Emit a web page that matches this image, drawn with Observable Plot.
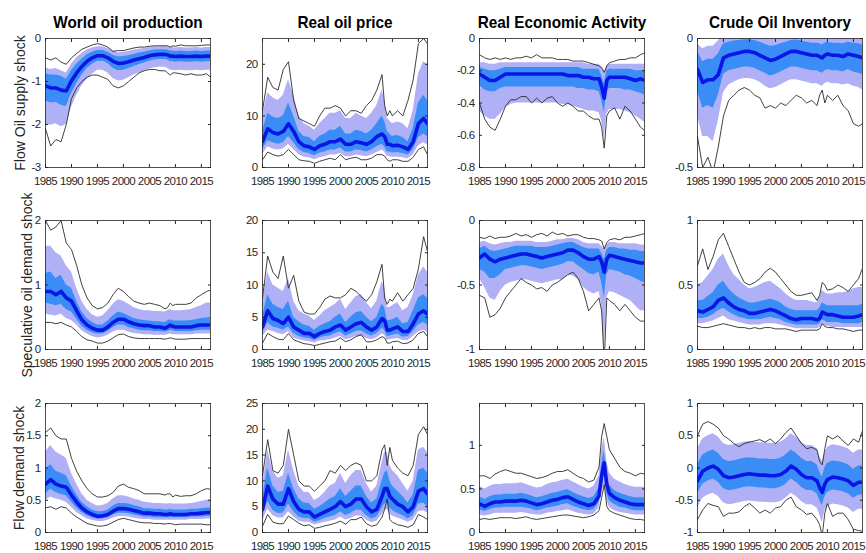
<!DOCTYPE html>
<html><head><meta charset="utf-8">
<script src="https://cdn.jsdelivr.net/npm/d3@7"></script>
<script src="https://cdn.jsdelivr.net/npm/@observablehq/plot@0.6"></script>
<style>
body{margin:0;background:#fff;}
#chart{position:relative;width:866px;height:553px;overflow:hidden;font-family:"Liberation Sans",Arial,sans-serif;background:#fff;}
.panel{position:absolute;}
.panel svg{display:block;}
.title{position:absolute;font-weight:bold;font-size:17px;line-height:17px;color:#000;white-space:nowrap;transform:translateX(-50%) scaleX(0.9);}
.rowlab{position:absolute;font-size:14px;line-height:14px;color:#262626;white-space:nowrap;transform:translate(-50%,-50%) rotate(-90deg);}
</style></head><body><div id="chart"></div>
<script>
// time axis (quarters sampled yearly, plus a few points around the 2008-09 spike)
const years = [1985,1986,1987,1988,1989,1990,1991,1992,1993,1994,1995,1996,1997,1998,1999,2000,2001,2002,2003,2004,2005,2006,2007,2008,2008.5,2009,2009.5,2010,2011,2012,2013,2014,2015,2016,2016.75];
const xTicks = [1985,1990,1995,2000,2005,2010,2015];
const columnTitles = ["World oil production","Real oil price","Real Economic Activity","Crude Oil Inventory"];
const rowTitles = ["Flow Oil supply shock","Speculative oil demand shock","Flow demand shock"];

// y tick labels per panel
const yt_S_WOP=[-3,-2,-1,0], yt_S_ROP=[0,10,20], yt_S_REA=[-0.8,-0.6,-0.4,-0.2,0], yt_S_COI=[-0.5,0];
const yt_D_WOP=[0,1,2], yt_D_ROP=[0,5,10,15,20], yt_D_REA=[-1,-0.5,0], yt_D_COI=[0,0.5,1];
const yt_F_WOP=[0,0.5,1,1.5,2], yt_F_ROP=[0,5,10,15,20,25], yt_F_REA=[0,0.5,1], yt_F_COI=[-1,-0.5,0,0.5,1];

// ---- Row 1: flow oil supply shock ----
const S_WOP_med=[-1.10,-1.15,-1.15,-1.20,-1.22,-0.98,-0.80,-0.65,-0.53,-0.45,-0.40,-0.40,-0.45,-0.53,-0.58,-0.57,-0.54,-0.50,-0.47,-0.44,-0.40,-0.38,-0.37,-0.37,-0.38,-0.41,-0.41,-0.42,-0.41,-0.42,-0.42,-0.41,-0.42,-0.41,-0.41];
const S_WOP_inHi=[-0.82,-0.85,-0.85,-0.88,-0.95,-0.75,-0.60,-0.48,-0.38,-0.32,-0.28,-0.28,-0.32,-0.39,-0.43,-0.42,-0.40,-0.37,-0.34,-0.32,-0.29,-0.27,-0.26,-0.26,-0.27,-0.29,-0.29,-0.30,-0.29,-0.30,-0.30,-0.29,-0.30,-0.29,-0.29];
const S_WOP_inLo=[-1.45,-1.50,-1.48,-1.55,-1.58,-1.28,-1.05,-0.85,-0.70,-0.60,-0.53,-0.53,-0.58,-0.69,-0.75,-0.74,-0.70,-0.65,-0.61,-0.57,-0.53,-0.50,-0.49,-0.49,-0.50,-0.54,-0.54,-0.55,-0.54,-0.55,-0.55,-0.54,-0.55,-0.54,-0.54];
const S_WOP_outHi=[-0.68,-0.72,-0.70,-0.75,-0.80,-0.60,-0.45,-0.35,-0.27,-0.22,-0.19,-0.19,-0.23,-0.29,-0.33,-0.32,-0.30,-0.27,-0.25,-0.23,-0.21,-0.19,-0.19,-0.19,-0.19,-0.21,-0.21,-0.22,-0.21,-0.22,-0.22,-0.21,-0.22,-0.21,-0.21];
const S_WOP_outLo=[-2.00,-2.02,-1.98,-2.05,-2.00,-1.60,-1.32,-1.10,-0.95,-0.83,-0.74,-0.74,-0.80,-0.93,-0.99,-0.97,-0.91,-0.85,-0.80,-0.76,-0.71,-0.68,-0.67,-0.67,-0.69,-0.74,-0.74,-0.75,-0.74,-0.75,-0.75,-0.74,-0.75,-0.74,-0.74];
const S_WOP_bHi=[-0.45,-0.50,-0.45,-0.55,-0.60,-0.45,-0.35,-0.25,-0.20,-0.15,-0.12,-0.15,-0.20,-0.30,-0.28,-0.28,-0.25,-0.22,-0.20,-0.20,-0.18,-0.17,-0.17,-0.17,-0.17,-0.20,-0.17,-0.18,-0.15,-0.17,-0.17,-0.17,-0.16,-0.15,-0.15];
const S_WOP_bLo=[-2.10,-2.50,-2.35,-2.40,-2.00,-1.40,-1.15,-1.00,-0.90,-0.85,-0.85,-0.90,-0.95,-1.10,-1.15,-1.10,-1.00,-0.90,-0.80,-0.75,-0.72,-0.72,-0.75,-0.75,-0.80,-0.85,-0.80,-0.80,-0.82,-0.85,-0.82,-0.85,-0.85,-0.82,-0.90];

const S_ROP_med=[5.0,7.5,6.8,6.5,7.0,8.5,7.0,5.0,4.2,4.0,3.5,4.2,4.5,5.0,5.0,5.5,4.5,4.5,5.0,4.8,4.5,5.0,6.0,6.5,6.0,4.5,4.5,4.2,4.3,4.0,3.5,5.0,8.5,9.5,8.5];
const S_ROP_inHi=[7.0,10.5,9.8,9.5,10.0,12.5,10.0,7.0,6.0,5.8,5.0,6.0,6.5,7.2,7.2,8.0,6.5,6.5,7.2,7.0,6.5,7.2,8.5,10.0,9.0,7.0,6.5,6.0,6.2,5.8,5.0,7.5,12.5,14.0,13.0];
const S_ROP_inLo=[3.5,5.2,4.8,4.5,4.8,6.0,4.8,3.5,2.9,2.7,2.3,2.8,3.0,3.4,3.4,3.8,3.0,3.0,3.4,3.3,3.0,3.4,4.0,4.5,4.0,3.0,3.0,2.8,2.9,2.7,2.4,3.4,5.8,6.5,6.0];
const S_ROP_outHi=[10.0,14.5,13.5,13.0,14.0,17.0,14.0,10.0,8.5,8.0,7.2,8.5,9.5,10.5,10.5,11.0,9.5,9.5,10.5,10.0,9.5,10.5,12.0,15.0,13.0,9.5,9.0,8.5,8.8,8.5,7.5,11.0,18.0,20.5,20.0];
const S_ROP_outLo=[2.5,4.0,3.6,3.4,3.6,4.5,3.5,2.5,2.0,1.9,1.5,1.9,2.1,2.4,2.4,2.7,2.1,2.1,2.4,2.3,2.1,2.4,2.9,3.4,3.0,2.2,2.1,2.0,2.0,1.9,1.7,2.4,4.2,4.8,4.4];
const S_ROP_bHi=[11.0,17.5,15.5,15.0,19.0,20.5,13.0,9.5,9.0,8.5,8.0,10.0,11.5,11.5,12.0,11.5,10.0,11.0,11.0,10.5,12.0,13.0,15.0,18.0,12.0,10.0,11.0,10.0,11.0,10.0,13.0,17.0,24.0,25.0,24.0];
const S_ROP_bLo=[1.5,3.0,2.5,2.2,2.5,3.5,2.5,1.5,1.3,1.2,0.8,1.2,1.5,1.8,1.5,2.5,1.5,1.8,2.0,1.5,1.5,1.8,2.5,2.5,2.2,1.5,1.2,1.5,1.5,1.2,1.2,2.0,3.5,4.0,2.5];

const S_REA_med=[-0.22,-0.24,-0.26,-0.26,-0.24,-0.22,-0.22,-0.22,-0.22,-0.22,-0.22,-0.22,-0.22,-0.22,-0.22,-0.22,-0.22,-0.23,-0.23,-0.23,-0.24,-0.24,-0.25,-0.25,-0.30,-0.37,-0.26,-0.24,-0.24,-0.24,-0.24,-0.25,-0.26,-0.25,-0.26];
const S_REA_inHi=[-0.18,-0.19,-0.20,-0.20,-0.19,-0.18,-0.18,-0.18,-0.18,-0.18,-0.18,-0.18,-0.18,-0.18,-0.18,-0.18,-0.18,-0.18,-0.18,-0.18,-0.19,-0.19,-0.19,-0.19,-0.23,-0.28,-0.20,-0.19,-0.19,-0.19,-0.19,-0.19,-0.20,-0.20,-0.20];
const S_REA_inLo=[-0.29,-0.32,-0.33,-0.33,-0.31,-0.30,-0.30,-0.30,-0.30,-0.30,-0.30,-0.30,-0.30,-0.30,-0.30,-0.30,-0.30,-0.30,-0.30,-0.31,-0.31,-0.32,-0.32,-0.33,-0.38,-0.46,-0.33,-0.31,-0.31,-0.31,-0.32,-0.32,-0.33,-0.34,-0.35];
const S_REA_outHi=[-0.15,-0.15,-0.16,-0.16,-0.15,-0.15,-0.15,-0.15,-0.15,-0.15,-0.15,-0.15,-0.15,-0.15,-0.15,-0.15,-0.15,-0.15,-0.15,-0.15,-0.15,-0.16,-0.16,-0.16,-0.18,-0.21,-0.17,-0.16,-0.16,-0.16,-0.16,-0.16,-0.16,-0.16,-0.16];
const S_REA_outLo=[-0.45,-0.48,-0.50,-0.50,-0.47,-0.43,-0.41,-0.40,-0.40,-0.40,-0.40,-0.40,-0.40,-0.40,-0.40,-0.40,-0.41,-0.41,-0.42,-0.43,-0.44,-0.45,-0.45,-0.46,-0.51,-0.62,-0.47,-0.44,-0.44,-0.44,-0.45,-0.46,-0.48,-0.50,-0.52];
const S_REA_bHi=[-0.10,-0.12,-0.13,-0.12,-0.13,-0.12,-0.13,-0.12,-0.12,-0.11,-0.12,-0.10,-0.12,-0.12,-0.12,-0.13,-0.13,-0.13,-0.14,-0.14,-0.14,-0.15,-0.16,-0.17,-0.18,-0.21,-0.17,-0.15,-0.14,-0.13,-0.13,-0.12,-0.12,-0.10,-0.09];
const S_REA_bLo=[-0.40,-0.50,-0.55,-0.57,-0.50,-0.42,-0.38,-0.38,-0.36,-0.36,-0.40,-0.37,-0.40,-0.37,-0.36,-0.40,-0.42,-0.40,-0.42,-0.45,-0.45,-0.48,-0.50,-0.50,-0.55,-0.68,-0.48,-0.45,-0.43,-0.50,-0.42,-0.45,-0.50,-0.55,-0.57];

const S_COI_med=[-0.12,-0.17,-0.16,-0.16,-0.14,-0.075,-0.065,-0.06,-0.055,-0.05,-0.05,-0.055,-0.065,-0.075,-0.085,-0.08,-0.07,-0.06,-0.05,-0.05,-0.055,-0.06,-0.065,-0.065,-0.07,-0.075,-0.065,-0.06,-0.065,-0.065,-0.07,-0.06,-0.065,-0.07,-0.075];
const S_COI_inHi=[-0.05,-0.09,-0.08,-0.08,-0.06,-0.02,-0.015,-0.01,-0.008,-0.005,-0.005,-0.008,-0.015,-0.022,-0.03,-0.028,-0.02,-0.015,-0.008,-0.006,-0.01,-0.015,-0.018,-0.018,-0.02,-0.025,-0.018,-0.015,-0.018,-0.018,-0.02,-0.015,-0.018,-0.02,-0.025];
const S_COI_inLo=[-0.20,-0.27,-0.26,-0.27,-0.22,-0.14,-0.125,-0.12,-0.115,-0.11,-0.11,-0.115,-0.125,-0.135,-0.145,-0.14,-0.13,-0.12,-0.11,-0.11,-0.115,-0.12,-0.125,-0.125,-0.13,-0.135,-0.125,-0.12,-0.125,-0.125,-0.13,-0.12,-0.13,-0.135,-0.14];
const S_COI_outHi=[-0.02,-0.04,-0.03,-0.03,-0.01,0.02,0.03,0.03,0.03,0.03,0.03,0.03,0.03,0.02,0.01,0.01,0.02,0.03,0.03,0.03,0.03,0.03,0.02,0.02,0.02,0.02,0.02,0.02,0.02,0.02,0.02,0.02,0.02,0.02,0.02];
const S_COI_outLo=[-0.30,-0.38,-0.38,-0.40,-0.32,-0.21,-0.18,-0.17,-0.16,-0.155,-0.155,-0.16,-0.17,-0.185,-0.195,-0.19,-0.18,-0.17,-0.16,-0.16,-0.165,-0.17,-0.175,-0.175,-0.18,-0.185,-0.175,-0.17,-0.175,-0.175,-0.18,-0.175,-0.185,-0.19,-0.20];
const S_COI_bHi=[0.06,0.05,0.05,0.05,0.06,0.08,0.09,0.09,0.09,0.09,0.09,0.09,0.09,0.08,0.08,0.08,0.08,0.09,0.09,0.09,0.09,0.09,0.08,0.08,0.08,0.08,0.08,0.08,0.08,0.08,0.08,0.08,0.08,0.08,0.08];
const S_COI_bLo=[-0.38,-0.50,-0.46,-0.52,-0.42,-0.30,-0.24,-0.22,-0.20,-0.19,-0.20,-0.22,-0.23,-0.27,-0.26,-0.27,-0.25,-0.26,-0.24,-0.22,-0.23,-0.25,-0.24,-0.26,-0.22,-0.20,-0.25,-0.22,-0.24,-0.22,-0.26,-0.28,-0.33,-0.34,-0.33];

// ---- Row 2: speculative oil demand shock ----
const D_WOP_med=[0.90,0.90,0.85,0.90,0.80,0.75,0.60,0.46,0.38,0.33,0.30,0.30,0.35,0.42,0.47,0.47,0.43,0.40,0.38,0.37,0.37,0.35,0.35,0.33,0.35,0.38,0.36,0.35,0.35,0.35,0.35,0.37,0.38,0.38,0.38];
const D_WOP_inHi=[1.18,1.20,1.10,1.15,1.00,0.95,0.75,0.58,0.48,0.42,0.38,0.38,0.44,0.52,0.58,0.56,0.52,0.48,0.46,0.45,0.44,0.43,0.43,0.42,0.44,0.46,0.44,0.44,0.44,0.44,0.45,0.46,0.48,0.49,0.50];
const D_WOP_inLo=[0.72,0.70,0.68,0.70,0.62,0.58,0.47,0.36,0.30,0.26,0.24,0.24,0.28,0.34,0.38,0.38,0.34,0.32,0.30,0.29,0.29,0.28,0.28,0.27,0.28,0.30,0.29,0.28,0.28,0.28,0.28,0.29,0.30,0.30,0.30];
const D_WOP_outHi=[1.60,1.60,1.50,1.45,1.30,1.20,0.95,0.75,0.62,0.54,0.50,0.52,0.60,0.70,0.77,0.75,0.70,0.65,0.62,0.60,0.60,0.59,0.59,0.58,0.60,0.62,0.60,0.60,0.60,0.61,0.62,0.65,0.68,0.72,0.72];
const D_WOP_outLo=[0.55,0.53,0.52,0.55,0.48,0.45,0.38,0.29,0.24,0.20,0.18,0.19,0.22,0.27,0.30,0.30,0.27,0.25,0.24,0.23,0.23,0.22,0.22,0.22,0.23,0.24,0.23,0.23,0.23,0.23,0.23,0.24,0.24,0.24,0.24];
const D_WOP_bHi=[2.00,1.85,1.90,2.00,1.65,1.55,1.30,1.00,0.80,0.68,0.63,0.65,0.72,0.85,0.95,0.90,0.82,0.75,0.72,0.70,0.72,0.70,0.68,0.63,0.65,0.72,0.68,0.70,0.70,0.70,0.72,0.80,0.85,0.90,0.92];
const D_WOP_bLo=[0.42,0.42,0.40,0.42,0.38,0.35,0.28,0.20,0.15,0.13,0.10,0.10,0.13,0.18,0.23,0.24,0.20,0.18,0.17,0.17,0.17,0.17,0.17,0.16,0.17,0.18,0.17,0.16,0.16,0.16,0.17,0.17,0.17,0.17,0.17];

const D_ROP_med=[3.5,6.0,4.8,4.5,4.0,5.0,3.5,3.0,2.5,2.5,2.0,2.5,2.8,3.0,3.5,3.8,3.0,3.5,4.0,4.2,3.5,3.0,3.5,4.8,4.5,3.0,3.0,3.2,3.5,2.8,2.8,4.0,5.5,6.0,5.5];
const D_ROP_inHi=[5.0,8.5,7.0,6.5,6.2,7.5,5.0,4.3,3.8,3.6,3.0,3.6,4.0,4.3,5.0,5.5,4.2,5.0,5.7,5.9,5.0,4.3,5.0,7.0,6.5,4.5,4.5,4.6,5.0,4.0,4.2,6.0,8.0,8.5,8.0];
const D_ROP_inLo=[2.5,4.2,3.5,3.3,3.0,3.5,2.5,2.0,1.8,1.7,1.4,1.8,2.0,2.1,2.5,2.7,2.1,2.4,2.8,2.9,2.4,2.1,2.5,3.3,3.0,2.0,2.1,2.2,2.4,1.9,2.0,2.8,3.8,4.2,3.8];
const D_ROP_outHi=[7.5,12.0,10.0,9.5,9.0,11.0,7.5,6.0,5.5,5.2,4.5,5.2,6.0,6.5,7.0,7.8,6.2,7.2,8.2,8.5,7.3,6.3,7.5,10.5,9.5,6.5,6.5,6.8,7.3,6.0,6.5,8.5,11.5,12.8,12.0];
const D_ROP_outLo=[2.0,3.0,2.8,2.5,2.3,2.8,1.8,1.5,1.3,1.2,1.0,1.3,1.4,1.5,1.8,2.0,1.5,1.7,2.0,2.0,1.7,1.5,1.8,2.4,2.2,1.4,1.5,1.6,1.7,1.4,1.4,2.0,2.7,3.0,2.7];
const D_ROP_bHi=[8.0,14.5,12.0,11.0,14.5,9.5,11.5,7.5,5.8,5.5,5.5,6.5,7.8,8.3,8.0,8.0,8.5,9.5,9.0,8.2,7.5,8.5,10.5,13.2,8.0,7.0,7.8,7.5,8.8,7.5,8.5,9.5,12.5,17.5,15.2];
const D_ROP_bLo=[1.0,2.5,2.0,1.6,1.5,2.5,1.5,1.2,0.9,0.8,0.6,0.8,1.0,1.2,1.3,1.8,1.2,1.5,2.0,2.3,1.2,1.2,1.5,2.0,1.8,1.0,1.0,1.2,1.3,0.9,1.0,1.5,2.5,2.8,2.0];

const D_REA_med=[-0.29,-0.26,-0.30,-0.32,-0.30,-0.29,-0.28,-0.27,-0.26,-0.26,-0.27,-0.28,-0.29,-0.28,-0.27,-0.26,-0.25,-0.23,-0.23,-0.25,-0.28,-0.30,-0.30,-0.28,-0.32,-0.40,-0.30,-0.27,-0.28,-0.29,-0.30,-0.31,-0.32,-0.33,-0.33];
const D_REA_inHi=[-0.22,-0.20,-0.23,-0.24,-0.23,-0.22,-0.21,-0.20,-0.20,-0.20,-0.20,-0.21,-0.21,-0.21,-0.20,-0.19,-0.18,-0.17,-0.17,-0.19,-0.21,-0.22,-0.22,-0.22,-0.25,-0.30,-0.23,-0.21,-0.21,-0.22,-0.22,-0.23,-0.23,-0.24,-0.24];
const D_REA_inLo=[-0.38,-0.40,-0.45,-0.45,-0.42,-0.38,-0.37,-0.36,-0.35,-0.35,-0.36,-0.37,-0.38,-0.37,-0.36,-0.35,-0.34,-0.32,-0.32,-0.35,-0.38,-0.41,-0.42,-0.40,-0.48,-0.60,-0.42,-0.38,-0.39,-0.40,-0.42,-0.43,-0.45,-0.47,-0.48];
const D_REA_outHi=[-0.17,-0.16,-0.18,-0.19,-0.18,-0.17,-0.17,-0.16,-0.16,-0.16,-0.16,-0.17,-0.17,-0.17,-0.16,-0.15,-0.15,-0.14,-0.14,-0.15,-0.17,-0.18,-0.18,-0.18,-0.20,-0.22,-0.19,-0.17,-0.17,-0.18,-0.18,-0.18,-0.18,-0.19,-0.19];
const D_REA_outLo=[-0.45,-0.52,-0.60,-0.62,-0.55,-0.50,-0.48,-0.47,-0.46,-0.46,-0.47,-0.48,-0.49,-0.48,-0.47,-0.46,-0.46,-0.42,-0.43,-0.46,-0.52,-0.55,-0.57,-0.55,-0.65,-1.00,-0.60,-0.55,-0.56,-0.58,-0.60,-0.62,-0.66,-0.70,-0.70];
const D_REA_bHi=[-0.13,-0.14,-0.12,-0.14,-0.13,-0.13,-0.12,-0.10,-0.12,-0.11,-0.13,-0.11,-0.10,-0.12,-0.09,-0.11,-0.10,-0.12,-0.11,-0.11,-0.13,-0.14,-0.14,-0.15,-0.16,-0.22,-0.17,-0.15,-0.14,-0.15,-0.13,-0.13,-0.12,-0.11,-0.10];
const D_REA_bLo=[-0.58,-0.60,-0.75,-0.73,-0.68,-0.60,-0.55,-0.50,-0.45,-0.48,-0.50,-0.53,-0.52,-0.55,-0.50,-0.48,-0.45,-0.42,-0.40,-0.45,-0.55,-0.70,-0.65,-0.60,-0.70,-1.10,-0.60,-0.62,-0.65,-0.70,-0.65,-0.70,-0.75,-0.78,-0.78];

const D_COI_med=[0.30,0.29,0.31,0.33,0.38,0.40,0.36,0.33,0.31,0.30,0.28,0.28,0.29,0.30,0.31,0.30,0.28,0.26,0.24,0.23,0.24,0.24,0.24,0.23,0.24,0.29,0.28,0.27,0.27,0.26,0.25,0.25,0.25,0.26,0.27];
const D_COI_inHi=[0.38,0.38,0.41,0.44,0.50,0.53,0.47,0.43,0.40,0.38,0.36,0.36,0.37,0.38,0.39,0.38,0.36,0.33,0.31,0.30,0.30,0.30,0.30,0.30,0.32,0.36,0.35,0.34,0.34,0.34,0.34,0.34,0.34,0.34,0.35];
const D_COI_inLo=[0.24,0.24,0.25,0.27,0.30,0.32,0.29,0.27,0.25,0.24,0.23,0.23,0.23,0.24,0.25,0.24,0.23,0.21,0.20,0.19,0.19,0.19,0.19,0.19,0.20,0.23,0.22,0.21,0.21,0.21,0.20,0.20,0.20,0.20,0.21];
const D_COI_outHi=[0.50,0.52,0.57,0.62,0.70,0.74,0.65,0.58,0.54,0.50,0.47,0.48,0.50,0.52,0.53,0.50,0.47,0.43,0.40,0.38,0.38,0.38,0.37,0.36,0.40,0.46,0.44,0.43,0.43,0.44,0.44,0.45,0.47,0.48,0.48];
const D_COI_outLo=[0.20,0.20,0.21,0.22,0.24,0.26,0.23,0.22,0.21,0.20,0.19,0.19,0.19,0.20,0.20,0.20,0.19,0.18,0.17,0.16,0.16,0.16,0.16,0.16,0.17,0.19,0.18,0.18,0.17,0.17,0.17,0.17,0.17,0.17,0.17];
const D_COI_bHi=[0.65,0.78,0.62,0.72,0.85,0.90,0.80,0.70,0.60,0.52,0.50,0.52,0.55,0.60,0.63,0.60,0.55,0.50,0.45,0.42,0.42,0.43,0.44,0.38,0.42,0.52,0.50,0.46,0.47,0.50,0.48,0.45,0.50,0.55,0.63];
const D_COI_bLo=[0.18,0.17,0.17,0.18,0.19,0.20,0.19,0.18,0.17,0.17,0.16,0.17,0.16,0.17,0.17,0.16,0.16,0.16,0.15,0.14,0.15,0.15,0.15,0.15,0.16,0.20,0.18,0.17,0.17,0.16,0.16,0.15,0.14,0.15,0.15];

// ---- Row 3: flow demand shock ----
const F_WOP_med=[0.75,0.82,0.75,0.72,0.70,0.58,0.47,0.38,0.32,0.28,0.25,0.26,0.28,0.33,0.37,0.37,0.36,0.34,0.32,0.30,0.30,0.29,0.29,0.28,0.28,0.29,0.28,0.28,0.28,0.28,0.29,0.29,0.30,0.31,0.31];
const F_WOP_inHi=[0.98,1.05,0.95,0.92,0.88,0.72,0.58,0.47,0.40,0.35,0.32,0.32,0.35,0.41,0.45,0.45,0.44,0.42,0.40,0.37,0.37,0.36,0.36,0.35,0.35,0.36,0.35,0.35,0.35,0.35,0.36,0.36,0.37,0.38,0.38];
const F_WOP_inLo=[0.60,0.67,0.62,0.59,0.57,0.47,0.38,0.31,0.26,0.23,0.21,0.21,0.23,0.27,0.30,0.30,0.29,0.27,0.26,0.24,0.24,0.23,0.23,0.23,0.23,0.23,0.23,0.23,0.23,0.23,0.24,0.24,0.24,0.25,0.25];
const F_WOP_outHi=[1.25,1.35,1.25,1.20,1.15,0.92,0.75,0.60,0.50,0.45,0.41,0.42,0.45,0.52,0.57,0.57,0.55,0.52,0.50,0.47,0.46,0.45,0.45,0.44,0.44,0.45,0.44,0.44,0.44,0.44,0.45,0.46,0.48,0.50,0.50];
const F_WOP_outLo=[0.50,0.55,0.52,0.50,0.47,0.39,0.31,0.26,0.21,0.19,0.17,0.17,0.19,0.22,0.25,0.25,0.24,0.22,0.21,0.20,0.20,0.19,0.19,0.19,0.19,0.19,0.19,0.19,0.19,0.19,0.20,0.20,0.20,0.21,0.21];
const F_WOP_bHi=[1.55,1.62,1.50,1.45,1.45,1.15,0.95,0.80,0.68,0.60,0.55,0.55,0.57,0.62,0.72,0.75,0.70,0.68,0.65,0.60,0.60,0.60,0.60,0.58,0.60,0.60,0.55,0.58,0.56,0.57,0.57,0.60,0.65,0.68,0.67];
const F_WOP_bLo=[0.38,0.40,0.36,0.40,0.38,0.30,0.24,0.19,0.14,0.12,0.10,0.10,0.12,0.16,0.20,0.22,0.20,0.18,0.16,0.15,0.15,0.14,0.14,0.13,0.14,0.14,0.13,0.12,0.13,0.13,0.13,0.13,0.13,0.12,0.12];

const F_ROP_med=[4.5,9.0,6.5,5.5,5.5,8.5,6.0,4.5,4.0,4.0,3.0,3.5,4.0,4.5,5.0,6.0,5.0,5.5,6.5,6.5,5.0,4.0,4.5,7.0,8.5,8.5,7.0,6.5,5.5,5.0,4.0,5.0,8.0,8.5,7.5];
const F_ROP_inHi=[6.5,12.5,9.0,7.8,8.0,11.5,8.5,6.5,5.7,5.6,4.5,5.0,5.7,6.5,7.0,8.5,7.0,8.0,9.0,9.0,7.0,5.7,6.5,10.0,11.5,12.0,10.0,9.0,8.0,7.0,5.7,7.3,12.0,12.5,11.5];
const F_ROP_inLo=[3.0,6.0,4.3,3.7,3.8,5.5,4.0,3.0,2.7,2.7,2.0,2.3,2.7,3.0,3.3,4.0,3.3,3.7,4.3,4.3,3.3,2.6,3.0,4.7,5.5,5.8,4.7,4.3,3.7,3.3,2.6,3.3,5.5,5.7,5.0];
const F_ROP_outHi=[9.0,16.0,12.0,10.5,11.0,16.0,12.0,9.0,7.8,7.7,6.2,6.8,7.8,9.0,9.5,11.5,9.5,11.0,12.0,12.0,9.5,7.8,9.0,13.5,15.5,15.5,13.0,12.0,11.0,9.5,8.0,10.0,16.0,16.5,15.5];
const F_ROP_outLo=[2.2,4.5,3.3,2.8,2.8,4.0,3.0,2.2,2.0,2.0,1.5,1.7,2.0,2.2,2.4,3.0,2.4,2.7,3.2,3.2,2.4,1.9,2.2,3.5,4.2,4.5,3.5,3.2,2.8,2.4,2.0,2.4,4.0,4.2,3.8];
const F_ROP_bHi=[11.0,18.0,12.0,11.5,13.0,20.0,15.0,10.0,9.0,9.0,8.0,9.0,10.0,12.0,11.5,13.0,12.0,13.0,13.5,13.0,10.0,10.0,11.0,16.0,17.0,13.0,16.5,14.0,12.5,11.5,11.0,13.0,19.0,20.5,19.0];
const F_ROP_bLo=[1.2,3.5,2.0,1.7,1.7,3.2,2.5,1.8,1.3,1.5,0.8,1.0,1.3,1.5,1.8,2.2,1.6,2.5,2.5,3.0,1.7,1.2,1.5,3.0,4.5,6.5,2.5,2.0,1.5,1.3,1.0,1.5,3.5,3.0,2.5];

const F_REA_med=[0.33,0.30,0.33,0.35,0.35,0.36,0.36,0.36,0.37,0.36,0.34,0.32,0.33,0.35,0.37,0.38,0.40,0.41,0.38,0.35,0.33,0.31,0.33,0.42,0.65,0.80,0.55,0.45,0.40,0.37,0.35,0.33,0.32,0.32,0.32];
const F_REA_inHi=[0.41,0.38,0.41,0.43,0.43,0.44,0.44,0.44,0.45,0.44,0.42,0.40,0.41,0.43,0.45,0.46,0.48,0.49,0.46,0.43,0.41,0.39,0.41,0.51,0.78,0.94,0.66,0.54,0.48,0.45,0.43,0.41,0.40,0.40,0.40];
const F_REA_inLo=[0.26,0.24,0.26,0.28,0.28,0.29,0.29,0.29,0.29,0.28,0.27,0.25,0.26,0.28,0.29,0.30,0.32,0.33,0.30,0.28,0.26,0.25,0.26,0.34,0.54,0.66,0.45,0.36,0.32,0.29,0.28,0.26,0.25,0.25,0.25];
const F_REA_outHi=[0.53,0.50,0.53,0.55,0.55,0.56,0.56,0.56,0.57,0.55,0.53,0.51,0.52,0.55,0.57,0.58,0.60,0.61,0.58,0.55,0.52,0.50,0.53,0.65,0.95,1.09,0.82,0.68,0.61,0.58,0.55,0.53,0.52,0.52,0.52];
const F_REA_outLo=[0.20,0.19,0.20,0.22,0.22,0.22,0.22,0.22,0.23,0.22,0.21,0.20,0.20,0.22,0.23,0.24,0.25,0.26,0.24,0.22,0.21,0.20,0.21,0.28,0.45,0.55,0.37,0.29,0.25,0.23,0.22,0.21,0.20,0.20,0.20];
const F_REA_bHi=[0.65,0.65,0.62,0.67,0.70,0.72,0.70,0.68,0.68,0.66,0.64,0.62,0.63,0.65,0.68,0.70,0.70,0.72,0.68,0.64,0.62,0.58,0.60,0.75,1.10,1.25,1.10,0.95,0.85,0.75,0.70,0.68,0.65,0.68,0.67];
const F_REA_bLo=[0.15,0.16,0.15,0.16,0.17,0.17,0.17,0.16,0.17,0.18,0.16,0.15,0.16,0.17,0.18,0.19,0.20,0.20,0.19,0.18,0.17,0.18,0.20,0.25,0.40,0.55,0.30,0.25,0.22,0.20,0.18,0.16,0.15,0.15,0.14];

const F_COI_med=[-0.20,-0.05,0.00,0.03,-0.02,-0.12,-0.15,-0.14,-0.12,-0.10,-0.09,-0.10,-0.11,-0.11,-0.12,-0.12,-0.10,-0.05,0.03,-0.02,-0.10,-0.15,-0.15,-0.20,-0.30,-0.38,-0.25,-0.18,-0.14,-0.15,-0.17,-0.20,-0.27,-0.22,-0.22];
const F_COI_inHi=[0.05,0.20,0.25,0.28,0.23,0.13,0.10,0.11,0.13,0.15,0.16,0.15,0.14,0.14,0.13,0.13,0.15,0.20,0.28,0.23,0.15,0.10,0.10,0.05,-0.06,-0.14,0.00,0.07,0.11,0.10,0.08,0.05,-0.02,0.03,0.03];
const F_COI_inLo=[-0.40,-0.25,-0.20,-0.17,-0.22,-0.32,-0.35,-0.34,-0.32,-0.30,-0.29,-0.30,-0.31,-0.31,-0.32,-0.32,-0.30,-0.25,-0.17,-0.22,-0.30,-0.35,-0.35,-0.40,-0.50,-0.58,-0.45,-0.38,-0.34,-0.35,-0.37,-0.40,-0.47,-0.42,-0.42];
const F_COI_outHi=[0.30,0.45,0.50,0.53,0.48,0.38,0.35,0.36,0.38,0.40,0.41,0.40,0.39,0.39,0.38,0.38,0.40,0.45,0.53,0.48,0.40,0.35,0.35,0.30,0.18,0.10,0.23,0.32,0.36,0.35,0.33,0.30,0.23,0.28,0.28];
const F_COI_outLo=[-0.62,-0.47,-0.42,-0.39,-0.44,-0.54,-0.57,-0.56,-0.54,-0.52,-0.51,-0.52,-0.53,-0.53,-0.54,-0.54,-0.52,-0.47,-0.39,-0.44,-0.52,-0.57,-0.57,-0.62,-0.72,-0.85,-0.67,-0.60,-0.56,-0.57,-0.59,-0.62,-0.69,-0.64,-0.64];
const F_COI_bHi=[0.50,0.68,0.72,0.68,0.62,0.50,0.45,0.38,0.33,0.38,0.40,0.42,0.44,0.40,0.45,0.38,0.45,0.55,0.62,0.50,0.38,0.30,0.32,0.28,0.10,0.05,0.30,0.50,0.45,0.50,0.42,0.35,0.45,0.40,0.58];
const F_COI_bLo=[-0.80,-0.65,-0.55,-0.58,-0.60,-0.75,-0.70,-0.70,-0.68,-0.60,-0.55,-0.62,-0.70,-0.65,-0.70,-0.62,-0.60,-0.50,-0.45,-0.60,-0.65,-0.72,-0.70,-0.80,-0.88,-1.05,-0.70,-0.55,-0.75,-0.70,-0.70,-0.80,-0.95,-0.97,-0.98];

// ---- panel list (row, column, y-domain, y ticks, series) ----
function P(r,c,dom,ticks,med,inLo,inHi,outLo,outHi,bLo,bHi){return {r,c,dom,ticks,med,inLo,inHi,outLo,outHi,bLo,bHi};}
const panels=[
 P(0,0,[-3,0],yt_S_WOP,S_WOP_med,S_WOP_inLo,S_WOP_inHi,S_WOP_outLo,S_WOP_outHi,S_WOP_bLo,S_WOP_bHi),
 P(0,1,[0,25],yt_S_ROP,S_ROP_med,S_ROP_inLo,S_ROP_inHi,S_ROP_outLo,S_ROP_outHi,S_ROP_bLo,S_ROP_bHi),
 P(0,2,[-0.8,0],yt_S_REA,S_REA_med,S_REA_inLo,S_REA_inHi,S_REA_outLo,S_REA_outHi,S_REA_bLo,S_REA_bHi),
 P(0,3,[-0.5,0],yt_S_COI,S_COI_med,S_COI_inLo,S_COI_inHi,S_COI_outLo,S_COI_outHi,S_COI_bLo,S_COI_bHi),
 P(1,0,[0,2],yt_D_WOP,D_WOP_med,D_WOP_inLo,D_WOP_inHi,D_WOP_outLo,D_WOP_outHi,D_WOP_bLo,D_WOP_bHi),
 P(1,1,[0,20],yt_D_ROP,D_ROP_med,D_ROP_inLo,D_ROP_inHi,D_ROP_outLo,D_ROP_outHi,D_ROP_bLo,D_ROP_bHi),
 P(1,2,[-1,0],yt_D_REA,D_REA_med,D_REA_inLo,D_REA_inHi,D_REA_outLo,D_REA_outHi,D_REA_bLo,D_REA_bHi),
 P(1,3,[0,1],yt_D_COI,D_COI_med,D_COI_inLo,D_COI_inHi,D_COI_outLo,D_COI_outHi,D_COI_bLo,D_COI_bHi),
 P(2,0,[0,2],yt_F_WOP,F_WOP_med,F_WOP_inLo,F_WOP_inHi,F_WOP_outLo,F_WOP_outHi,F_WOP_bLo,F_WOP_bHi),
 P(2,1,[0,25],yt_F_ROP,F_ROP_med,F_ROP_inLo,F_ROP_inHi,F_ROP_outLo,F_ROP_outHi,F_ROP_bLo,F_ROP_bHi),
 P(2,2,[0,1.48],yt_F_REA,F_REA_med,F_REA_inLo,F_REA_inHi,F_REA_outLo,F_REA_outHi,F_REA_bLo,F_REA_bHi),
 P(2,3,[-1,1],yt_F_COI,F_COI_med,F_COI_inLo,F_COI_inHi,F_COI_outLo,F_COI_outHi,F_COI_bLo,F_COI_bHi)
];
for (const p of panels) for (const k of ["med","inLo","inHi","outLo","outHi","bLo","bHi"]) if (p[k].length!==years.length) throw new Error(`length mismatch r${p.r} c${p.c} ${k}: ${p[k].length}`);

// ---- layout ----
const ML=40, MR=4, MT=6, MB=24, PW=165, PH=129;
const colLeft=[45,262,479,697], rowTop=[38,220,403];
const LAV="#b0b0f6", BLUE="#3a8cf6", MEDC="#0a16e6", BLK="#2b2b2b";
const FONT="'Liberation Sans', Arial, sans-serif";
const chart=document.getElementById("chart");

for (const p of panels){
  const data=years.map((x,i)=>({x,med:p.med[i],inLo:p.inLo[i],inHi:p.inHi[i],outLo:p.outLo[i],outHi:p.outHi[i],bLo:p.bLo[i],bHi:p.bHi[i]}));
  const svg=Plot.plot({
    width:ML+PW+MR, height:MT+PH+MB,
    marginLeft:ML, marginRight:MR, marginTop:MT, marginBottom:MB,
    style:{fontFamily:FONT, fontSize:"11.5px", letterSpacing:"-0.6px", color:"#262626", background:"transparent"},
    x:{domain:[1985,2016.75]},
    y:{domain:p.dom},
    marks:[
      Plot.areaY(data,{x:"x",y1:"outLo",y2:"outHi",fill:LAV,clip:true}),
      Plot.areaY(data,{x:"x",y1:"inLo",y2:"inHi",fill:BLUE,clip:true}),
      Plot.lineY(data,{x:"x",y:"bHi",stroke:BLK,strokeWidth:0.9,clip:true}),
      Plot.lineY(data,{x:"x",y:"bLo",stroke:BLK,strokeWidth:0.9,clip:true}),
      Plot.lineY(data,{x:"x",y:"med",stroke:MEDC,strokeWidth:3.6,clip:true}),
      Plot.axisX(xTicks,{anchor:"bottom",tickSize:0,tickPadding:9,tickFormat:d=>String(d),label:null}),
      Plot.axisX(xTicks,{anchor:"bottom",tickSize:-3,fill:"none",label:null}),
      Plot.axisX(xTicks,{anchor:"top",tickSize:-3,fill:"none",label:null}),
      Plot.axisY(p.ticks,{anchor:"left",tickSize:0,tickPadding:5,tickFormat:d=>String(d),label:null}),
      Plot.axisY(p.ticks,{anchor:"left",tickSize:-3,fill:"none",label:null}),
      Plot.axisY(p.ticks,{anchor:"right",tickSize:-3,fill:"none",label:null}),
      Plot.frame({stroke:"#262626",strokeWidth:0.8})
    ]
  });
  const wrap=document.createElement("div");
  wrap.className="panel";
  wrap.style.left=(colLeft[p.c]-ML)+"px";
  wrap.style.top=(rowTop[p.r]-MT)+"px";
  wrap.append(svg);
  chart.append(wrap);
}

// column titles
columnTitles.forEach((t,c)=>{
  const d=document.createElement("div");
  d.className="title"; d.textContent=t;
  d.style.left=(colLeft[c]+PW/2)+"px"; d.style.top="14px";
  chart.append(d);
});
// row labels
const rowLabX=[20,27,19];
rowTitles.forEach((t,r)=>{
  const d=document.createElement("div");
  d.className="rowlab"; d.textContent=t;
  d.style.left=rowLabX[r]+"px"; d.style.top=(rowTop[r]+PH/2)+"px";
  chart.append(d);
});
</script></body></html>
